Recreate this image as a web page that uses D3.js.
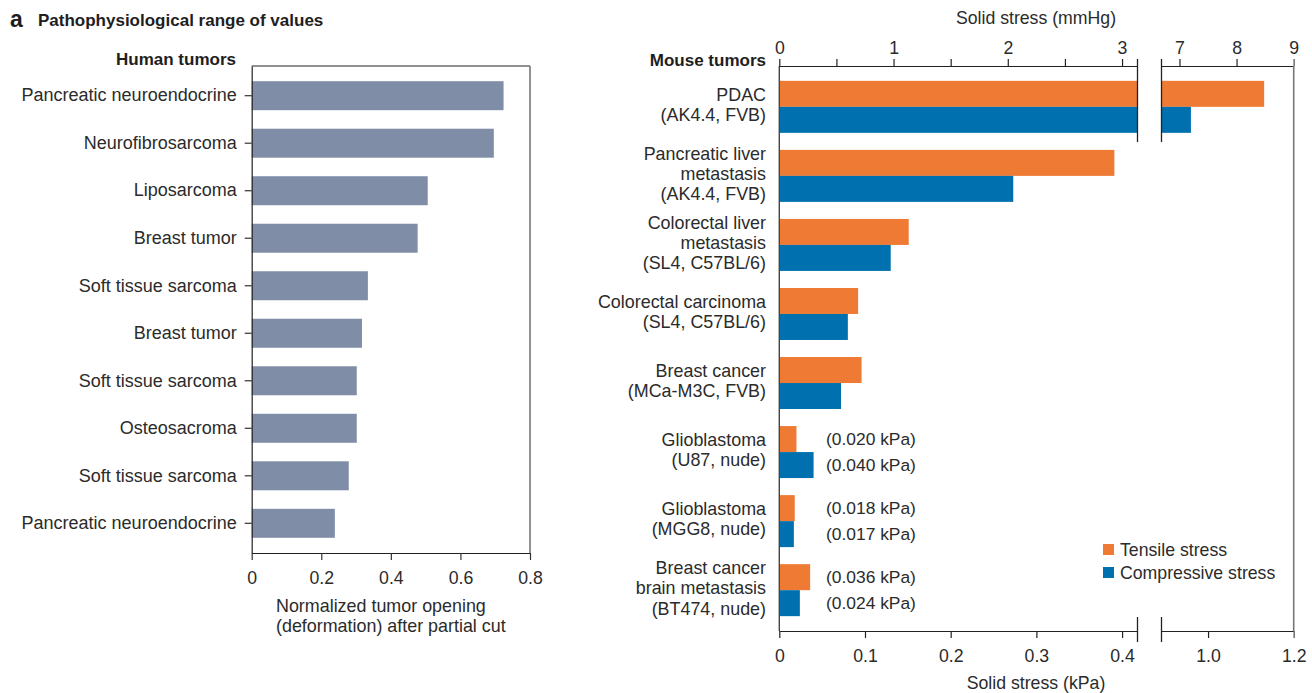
<!DOCTYPE html>
<html>
<head>
<meta charset="utf-8">
<script src="https://cdn.jsdelivr.net/npm/d3@7/dist/d3.min.js"></script>
<style>
  html, body { margin: 0; padding: 0; background: #fff; }
  svg { display: block; font-family: "Liberation Sans", Arial, sans-serif; }
  .lbl { font-size: 17.7px; fill: #2b2b2b; }
  .bold { font-weight: 700; fill: #1e1e1e; }
</style>
</head>
<body>
<svg id="chart" width="1312" height="693"></svg>
<script>
// ---- Human tumors: normalized opening after partial cut ----
const humanCategories = [
  "Pancreatic neuroendocrine", "Neurofibrosarcoma", "Liposarcoma", "Breast tumor",
  "Soft tissue sarcoma", "Breast tumor", "Soft tissue sarcoma", "Osteosacroma",
  "Soft tissue sarcoma", "Pancreatic neuroendocrine"
];
const humanValues = [0.724, 0.696, 0.506, 0.477, 0.334, 0.317, 0.302, 0.302, 0.279, 0.239];
const humanTicks = [0, 0.2, 0.4, 0.6, 0.8];

// ---- Mouse tumors: solid stress (kPa) ----
const mouseCategories = [
  ["PDAC", "(AK4.4, FVB)"],
  ["Pancreatic liver", "metastasis", "(AK4.4, FVB)"],
  ["Colorectal liver", "metastasis", "(SL4, C57BL/6)"],
  ["Colorectal carcinoma", "(SL4, C57BL/6)"],
  ["Breast cancer", "(MCa-M3C, FVB)"],
  ["Glioblastoma", "(U87, nude)"],
  ["Glioblastoma", "(MGG8, nude)"],
  ["Breast cancer", "brain metastasis", "(BT474, nude)"]
];
const seriesNames = ["Tensile stress", "Compressive stress"];
const seriesColors = ["#EE7A34", "#0071AE"];
const tensileKPa     = [1.131, 0.391, 0.151, 0.092, 0.096, 0.020, 0.018, 0.036];
const compressiveKPa = [0.960, 0.273, 0.130, 0.080, 0.072, 0.040, 0.017, 0.024];
const labeledRows = [5, 6, 7];   // rows annotated with their kPa value

const mmHgTicksLeft = [0, 1, 2, 3];
const mmHgMinorTicks = [0.5, 1.5, 2.5];
const mmHgTicksRight = [7, 8, 9];
const kPaTicksLeft = [0, 0.1, 0.2, 0.3, 0.4];
const kPaTicksRight = [1.0, 1.2];

const KPA_TO_MMHG = 7.50062;
const breakLow = 0.418;    // kPa where the left segment ends
const breakHigh = 0.8913;  // kPa where the right segment starts
const maxKPa = 1.2;

const FS = "17.7px";       // tick labels, legend, axis titles
const FS_CAT = "18px";     // human tumor categories
const FS_LINES = "17.9px"; // stacked multi-line labels
const FS_BOLD = "17px";

const svg = d3.select("#chart");

// ---- panel heading ----
svg.append("text").attr("x", 10).attr("y", 27).attr("class", "bold")
  .style("font-size", "23px").text("a");
svg.append("text").attr("x", 38).attr("y", 26).attr("class", "lbl bold")
  .style("font-size", FS_BOLD).text("Pathophysiological range of values");

// ================= Left panel =================
const L = { x0: 251.7, x1: 530, y0: 66, y1: 553 };
const xH = d3.scaleLinear().domain([0, 0.8]).range([L.x0, L.x1]);
const yH = d3.scaleBand().domain(d3.range(humanCategories.length))
  .range([L.y0, L.y1]).paddingInner(0.39).paddingOuter(0.32);

const gH = svg.append("g");
gH.selectAll("rect.bar").data(humanValues).join("rect")
  .attr("class", "bar")
  .attr("x", xH(0)).attr("y", (d, i) => yH(i))
  .attr("width", d => xH(d) - xH(0)).attr("height", yH.bandwidth())
  .attr("fill", "#7F8EA6");

// frame: top and right edges
gH.append("line").attr("x1", L.x0).attr("x2", L.x1).attr("y1", L.y0).attr("y2", L.y0)
  .attr("stroke", "#222").attr("stroke-width", 1.2);
gH.append("line").attr("x1", L.x1).attr("x2", L.x1).attr("y1", L.y0).attr("y2", L.y1)
  .attr("stroke", "#777").attr("stroke-width", 1.6);

const axHB = gH.append("g").attr("transform", `translate(0,${L.y1})`)
  .call(d3.axisBottom(xH).tickValues(humanTicks).tickSize(7).tickSizeOuter(0)
    .tickPadding(8).tickFormat(d => d === 0 ? "0" : d3.format(".1f")(d)));
const axHL = gH.append("g").attr("transform", `translate(${L.x0},0)`)
  .call(d3.axisLeft(yH).tickSize(7).tickSizeOuter(0).tickPadding(8)
    .tickFormat(i => humanCategories[i]));
[axHB, axHL].forEach(a => {
  a.selectAll("text").attr("class", "lbl").attr("fill", null).style("font-size", FS);
  a.selectAll("line").attr("stroke", "#333").attr("stroke-width", 1.2);
  a.select(".domain").attr("stroke", "#222").attr("stroke-width", 1.2);
});
axHL.selectAll("text").style("font-size", FS_CAT);
axHB.selectAll("text").attr("dy", "0.9em");

svg.append("text").attr("class", "lbl bold").attr("x", 236).attr("y", 65)
  .style("font-size", FS_BOLD).attr("text-anchor", "end").text("Human tumors");

// two-line x-axis title, lines share a left edge, block centred on the axis
const t2 = svg.append("text").attr("class", "lbl").attr("y", 632)
  .style("font-size", FS_LINES).text("(deformation) after partial cut");
const w2 = t2.node().getComputedTextLength();
const tx = (L.x0 + L.x1) / 2 - w2 / 2;
t2.attr("x", tx);
svg.append("text").attr("class", "lbl").attr("x", tx).attr("y", 611.5)
  .style("font-size", FS_LINES).text("Normalized tumor opening");

// ================= Right panel =================
const R = { x0: 779.3, xb0: 1137.5, xb1: 1161.5, x1: 1293.7, y0: 66, y1: 631 };
const xA = d3.scaleLinear().domain([0, breakLow]).range([R.x0, R.xb0]);
const xB = d3.scaleLinear().domain([breakHigh, maxKPa]).range([R.xb1, R.x1]);
const xAmm = d3.scaleLinear().domain([0, breakLow * KPA_TO_MMHG]).range([R.x0, R.xb0]);
const xBmm = d3.scaleLinear().domain([breakHigh * KPA_TO_MMHG, maxKPa * KPA_TO_MMHG]).range([R.xb1, R.x1]);

const yM = d3.scaleBand().domain(d3.range(mouseCategories.length))
  .range([R.y0, R.y1]).paddingInner(0.247).paddingOuter(0.215);
const yS = d3.scaleBand().domain(d3.range(seriesNames.length)).range([0, yM.bandwidth()]);

const series = [tensileKPa, compressiveKPa];
const barData = [];
mouseCategories.forEach((c, i) => series.forEach((vals, s) => barData.push({ row: i, s, v: vals[i] })));

const gM = svg.append("g");
// left segment of each bar
gM.selectAll("rect.segA").data(barData).join("rect")
  .attr("class", "segA")
  .attr("x", xA(0)).attr("y", d => yM(d.row) + yS(d.s))
  .attr("width", d => xA(Math.min(d.v, breakLow)) - xA(0))
  .attr("height", yS.bandwidth())
  .attr("fill", d => seriesColors[d.s]);
// continuation past the axis break
gM.selectAll("rect.segB").data(barData.filter(d => d.v > breakHigh)).join("rect")
  .attr("class", "segB")
  .attr("x", xB(breakHigh)).attr("y", d => yM(d.row) + yS(d.s))
  .attr("width", d => xB(d.v) - xB(breakHigh))
  .attr("height", yS.bandwidth())
  .attr("fill", d => seriesColors[d.s]);

// value annotations for the small bars
gM.selectAll("text.val").data(barData.filter(d => labeledRows.includes(d.row))).join("text")
  .attr("class", "lbl val")
  .attr("x", 826).attr("y", d => yM(d.row) + yS(d.s) + yS.bandwidth() / 2)
  .attr("dy", "0.35em").style("font-size", "17.4px")
  .text(d => `(${d.v.toFixed(3)} kPa)`);

// left axis line
gM.append("line").attr("x1", R.x0).attr("x2", R.x0).attr("y1", R.y0).attr("y2", R.y1)
  .attr("stroke", "#444").attr("stroke-width", 1.4);

function styleAxis(a) {
  a.selectAll("text").attr("class", "lbl").attr("fill", null).style("font-size", FS);
  a.selectAll("line").attr("stroke", "#222").attr("stroke-width", 1.2);
  a.select(".domain").attr("stroke", "#222").attr("stroke-width", 1.2);
}

// top axis (mmHg)
const topA = gM.append("g").attr("transform", `translate(0,${R.y0})`)
  .call(d3.axisTop(xAmm).tickValues(mmHgTicksLeft).tickSize(7).tickSizeOuter(0)
    .tickPadding(5).tickFormat(d3.format("d")));
const topAm = gM.append("g").attr("transform", `translate(0,${R.y0})`)
  .call(d3.axisTop(xAmm).tickValues(mmHgMinorTicks).tickSize(7).tickSizeOuter(0).tickFormat(""));
const topB = gM.append("g").attr("transform", `translate(0,${R.y0})`)
  .call(d3.axisTop(xBmm).tickValues(mmHgTicksRight).tickSize(7).tickSizeOuter(0)
    .tickPadding(5).tickFormat(d3.format("d")));
// bottom axis (kPa)
const botA = gM.append("g").attr("transform", `translate(0,${R.y1})`)
  .call(d3.axisBottom(xA).tickValues(kPaTicksLeft).tickSize(7).tickSizeOuter(0).tickPadding(8)
    .tickFormat(d => d === 0 ? "0" : d3.format(".1f")(d)));
const botB = gM.append("g").attr("transform", `translate(0,${R.y1})`)
  .call(d3.axisBottom(xB).tickValues(kPaTicksRight).tickSize(7).tickSizeOuter(0).tickPadding(8)
    .tickFormat(d3.format(".1f")));
[topA, topAm, topB, botA, botB].forEach(styleAxis);
[botA, botB].forEach(a => a.selectAll("text").attr("dy", "0.9em"));

// right frame edge shares the last tick of both axes
[topB, botB].forEach(a => a.selectAll(".tick").filter(d => d === 9 || d === 1.2)
  .select("line").attr("stroke", "#777").attr("stroke-width", 1.6));
gM.append("line").attr("x1", R.x1).attr("x2", R.x1).attr("y1", R.y0).attr("y2", R.y1)
  .attr("stroke", "#777").attr("stroke-width", 1.6);

// break markers
[R.xb0, R.xb1].forEach(x => {
  gM.append("line").attr("x1", x).attr("x2", x).attr("y1", R.y0 - 7).attr("y2", R.y0 + 76)
    .attr("stroke", "#222").attr("stroke-width", 1.3);
  gM.append("line").attr("x1", x).attr("x2", x).attr("y1", R.y1 - 14).attr("y2", R.y1 + 11)
    .attr("stroke", "#222").attr("stroke-width", 1.3);
});

// axis titles
svg.append("text").attr("class", "lbl").attr("x", 1036).attr("y", 24)
  .attr("text-anchor", "middle").text("Solid stress (mmHg)");
svg.append("text").attr("class", "lbl").attr("x", 1036).attr("y", 689)
  .attr("text-anchor", "middle").text("Solid stress (kPa)");

// category labels (multi-line, right aligned)
svg.append("text").attr("class", "lbl bold").attr("x", 766).attr("y", 66)
  .style("font-size", FS_BOLD).attr("text-anchor", "end").text("Mouse tumors");
const lineH = 20.1;
mouseCategories.forEach((lines, i) => {
  const cy = yM(i) + yM.bandwidth() / 2 - 2;
  lines.forEach((ln, k) => {
    svg.append("text").attr("class", "lbl").attr("text-anchor", "end")
      .style("font-size", FS_LINES)
      .attr("x", 766)
      .attr("y", cy + (k - (lines.length - 1) / 2) * lineH)
      .attr("dy", "0.35em").text(ln);
  });
});

// legend
const lg = svg.append("g").attr("transform", "translate(1103,544)");
seriesNames.forEach((name, s) => {
  lg.append("rect").attr("x", 0).attr("y", s * 23).attr("width", 11).attr("height", 11)
    .attr("fill", seriesColors[s]);
  lg.append("text").attr("class", "lbl").attr("x", 17).attr("y", s * 23 + 5.5)
    .attr("dy", "0.35em").text(name);
});
</script>
</body>
</html>
